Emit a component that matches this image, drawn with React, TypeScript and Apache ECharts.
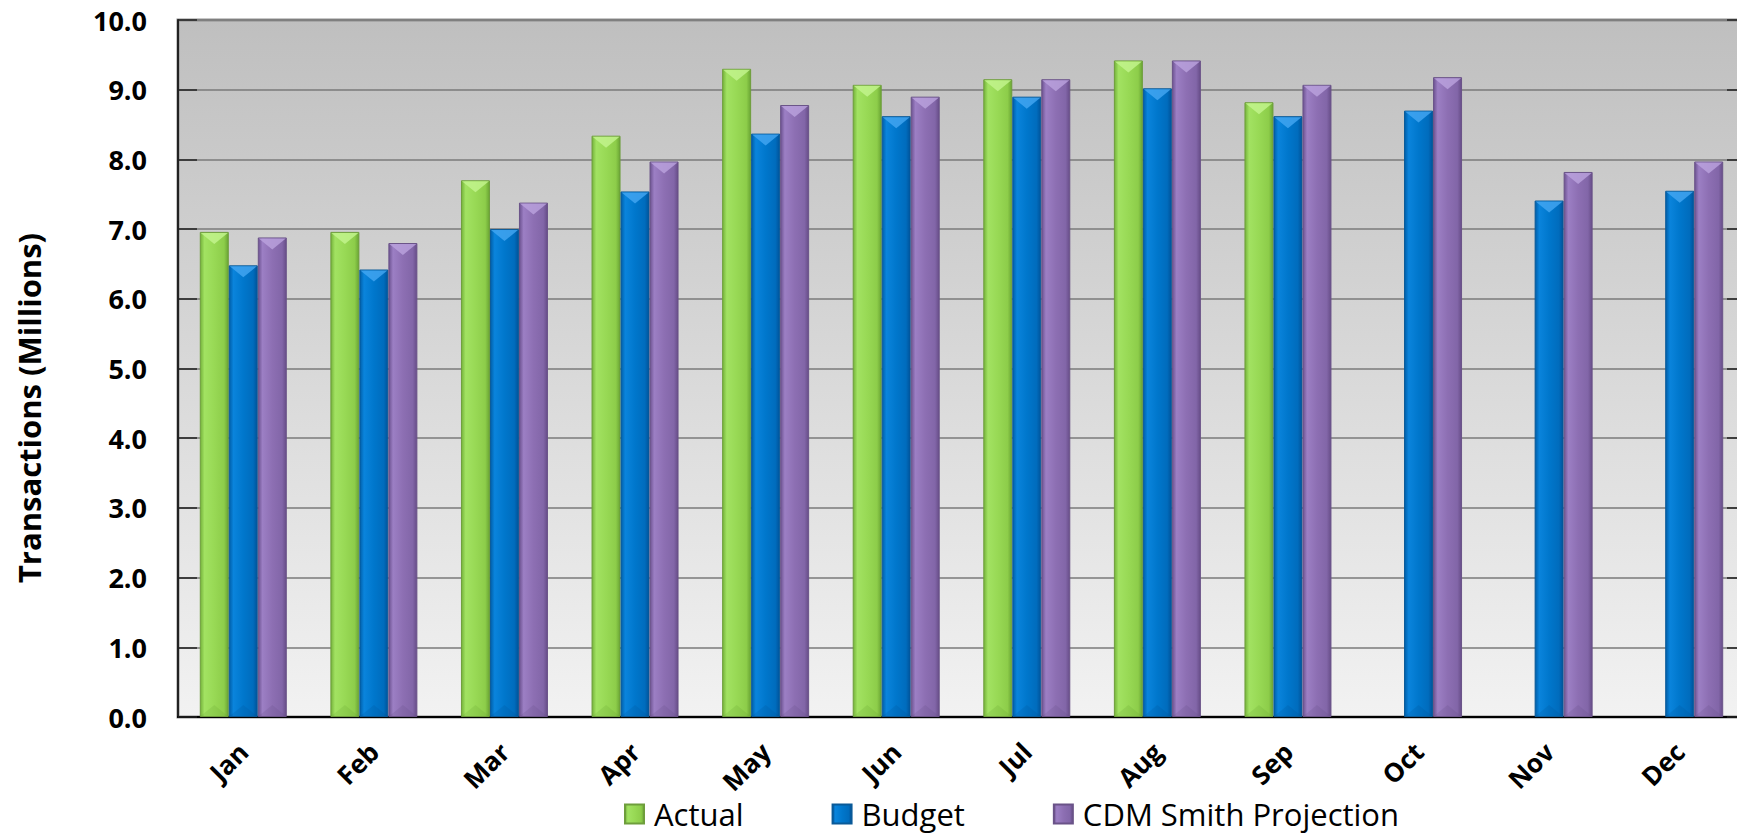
import React, { useEffect, useRef } from "react";
import * as echarts from "echarts";

const months = ["Jan", "Feb", "Mar", "Apr", "May", "Jun", "Jul", "Aug", "Sep", "Oct", "Nov", "Dec"];
const actual = [6.96, 6.96, 7.7, 8.34, 9.3, 9.07, 9.15, 9.42, 8.82, null, null, null];
const budget = [6.48, 6.42, 7.0, 7.54, 8.37, 8.62, 8.9, 9.02, 8.62, 8.7, 7.41, 7.55];
const projection = [6.88, 6.8, 7.38, 7.97, 8.78, 8.9, 9.15, 9.42, 9.07, 9.18, 7.82, 7.97];
const yTicks = [0, 1, 2, 3, 4, 5, 6, 7, 8, 9, 10];
const seriesNames = ["Actual", "Budget", "CDM Smith Projection"];

const BAR_W = 29;

const palettes = [
  { stops: ["#74b23a", "#a2e262", "#98d955", "#8dcd4a", "#6aa534"], border: "#6e9e3c", hi: "#c4f590", lo: "#5e9a2c" },
  { stops: ["#005ea8", "#0a84dc", "#0077cc", "#006cbd", "#00539a"], border: "#0a5a98", hi: "#45a8f2", lo: "#004e90" },
  { stops: ["#6c5290", "#9c7fc4", "#8d6fb3", "#8266a8", "#674d88"], border: "#6a5388", hi: "#bca4de", lo: "#5e4680" },
];

function grad(stops: string[]) {
  return new echarts.graphic.LinearGradient(0, 0, 1, 0, [
    { offset: 0, color: stops[0] },
    { offset: 0.15, color: stops[1] },
    { offset: 0.5, color: stops[2] },
    { offset: 0.85, color: stops[3] },
    { offset: 1, color: stops[4] },
  ]);
}

export default function App() {
  const ref = useRef<HTMLDivElement>(null);
  useEffect(() => {
    if (!ref.current) return;
    const chart = echarts.init(ref.current, undefined, { renderer: "svg" });
    const lists = [actual, budget, projection];
    const bevelData: any[] = [];
    lists.forEach((arr, s) => {
      arr.forEach((v, i) => {
        if (v !== null && v !== undefined) bevelData.push([i, v, s]);
      });
    });
    const barSeries = lists.map((arr, s) => ({
      type: "bar",
      name: seriesNames[s],
      data: arr.map((v) => (v === null ? "-" : v)),
      barWidth: BAR_W,
      barGap: "0%",
      itemStyle: { color: grad(palettes[s].stops), borderColor: palettes[s].border, borderWidth: 1 },
      emphasis: { disabled: true },
      z: 2,
    }));
    chart.setOption({
      animation: false,
      textStyle: { fontFamily: "Open Sans" },
      grid: {
        left: 178,
        right: -2,
        top: 20,
        bottom: 121,
        show: true,
        borderColor: "#8f8f8f",
        borderWidth: 3,
        backgroundColor: new echarts.graphic.LinearGradient(0, 0, 0, 1, [
          { offset: 0, color: "#bfbfbf" },
          { offset: 1, color: "#f2f2f2" },
        ]),
      },
      legend: {
        data: seriesNames,
        left: 624,
        top: 797,
        padding: 0,
        icon: "rect",
        itemWidth: 19,
        itemHeight: 19,
        itemGap: 88,
        textStyle: { fontFamily: "Open Sans", fontSize: 31, color: "#000", lineHeight: 34, padding: [0, 0, 0, 5] },
      },
      xAxis: {
        type: "category",
        data: months,
        axisLine: { show: true, lineStyle: { color: "#000", width: 2 } },
        axisTick: { show: false },
        axisLabel: {
          rotate: 45,
          margin: 30,
          interval: 0,
          fontFamily: "Open Sans",
          fontWeight: "bold",
          fontSize: 26,
          color: "#000",
        },
      },
      yAxis: [
        {
          type: "value",
          min: 0,
          max: 10,
          interval: 1,
          axisLine: { show: true, lineStyle: { color: "#222", width: 2 } },
          axisTick: { show: true, inside: true, length: 19, lineStyle: { color: "#222", width: 1.5 } },
          splitLine: { show: true, lineStyle: { color: "#7a7a7a", width: 1.5 } },
          axisLabel: {
            margin: 31,
            formatter: (v: number) => (yTicks.includes(v) ? v.toFixed(1) : ""),
            fontFamily: "Open Sans",
            fontWeight: "bold",
            fontSize: 27,
            color: "#000",
          },
        },
        {
          type: "value",
          position: "right",
          min: 0,
          max: 10,
          interval: 1,
          axisLine: { show: false },
          axisTick: { show: true, inside: true, length: 18, lineStyle: { color: "#222", width: 1.5 } },
          splitLine: { show: false },
          axisLabel: { show: false },
        },
      ],
      graphic: [
        {
          type: "text",
          x: 29,
          y: 408,
          rotation: Math.PI / 2,
          style: {
            text: "Transactions (Millions)",
            font: "bold 31px 'Open Sans'",
            fill: "#000",
            align: "center",
            verticalAlign: "middle",
          },
        },
      ],
      series: [
        ...barSeries,
        {
          type: "custom",
          name: "bevel",
          data: bevelData,
          encode: { x: 0, y: 1 },
          z: 3,
          silent: true,
          renderItem: (params: any, api: any) => {
            const cat = api.value(0);
            const val = api.value(1);
            const s = api.value(2);
            const top = api.coord([cat, val]);
            const base = api.coord([cat, 0]);
            const cx = top[0] + (s - 1) * BAR_W;
            const x0 = cx - BAR_W / 2 + 1;
            const x1 = cx + BAR_W / 2 - 1;
            const h = 12;
            const p = palettes[s];
            return {
              type: "group",
              children: [
                {
                  type: "polygon",
                  shape: { points: [[x0, top[1] + 1], [x1, top[1] + 1], [cx, top[1] + h]] },
                  style: { fill: p.hi, opacity: 0.8 },
                },
                {
                  type: "polygon",
                  shape: { points: [[x0, base[1] - 1], [x1, base[1] - 1], [cx, base[1] - h]] },
                  style: { fill: p.lo, opacity: 0.18 },
                },
              ],
            };
          },
        },
      ],
    });
    return () => chart.dispose();
  }, []);
  return <div ref={ref} style={{ width: 1745, height: 838, marginTop: -8, marginLeft: -8 }} />;
}
